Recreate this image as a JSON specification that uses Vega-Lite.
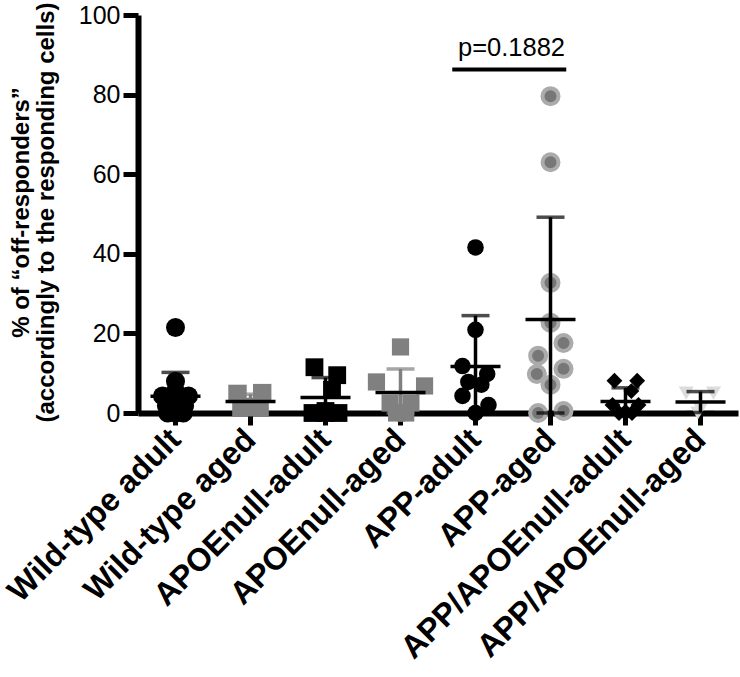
{
  "$schema": "https://vega.github.io/schema/vega-lite/v6.json",
  "autosize": "none",
  "width": 600,
  "height": 398,
  "padding": {"left": 138, "top": 15, "right": 2, "bottom": 264},
  "background": "white",
  "config": {
    "view": {"stroke": null},
    "font": "Liberation Sans",
    "axis": {"domainColor": "black", "tickColor": "black", "labelColor": "black", "titleColor": "black", "grid": false, "labelFont": "Liberation Sans", "titleFont": "Liberation Sans", "zindex": 1}
  },
  "resolve": {"axis": {"y": "independent", "x": "independent"}},
  "datasets": {
    "pts": [
      {"g": "Wild-type adult", "v": 21.5, "s": 0},
      {"g": "Wild-type adult", "v": 8, "s": 0},
      {"g": "Wild-type adult", "v": 5.5, "s": 0},
      {"g": "Wild-type adult", "v": 4.3, "s": -1},
      {"g": "Wild-type adult", "v": 4.3, "s": 1},
      {"g": "Wild-type adult", "v": 2.5, "s": 0},
      {"g": "Wild-type adult", "v": 1.8, "s": -0.7},
      {"g": "Wild-type adult", "v": 1.8, "s": 0.7},
      {"g": "Wild-type adult", "v": 1, "s": 0},
      {"g": "Wild-type adult", "v": 0, "s": -0.6},
      {"g": "Wild-type adult", "v": 0, "s": 0.6},
      {"g": "Wild-type adult", "v": 0, "s": 0},
      {"g": "Wild-type aged", "v": 4.8, "s": -1},
      {"g": "Wild-type aged", "v": 5, "s": 0.9},
      {"g": "Wild-type aged", "v": 1.5, "s": -0.7},
      {"g": "Wild-type aged", "v": 1.5, "s": 0},
      {"g": "Wild-type aged", "v": 1.5, "s": 0.7},
      {"g": "APOEnull-adult", "v": 11.5, "s": -0.85},
      {"g": "APOEnull-adult", "v": 9.5, "s": 0.9},
      {"g": "APOEnull-adult", "v": 5.8, "s": 0.5},
      {"g": "APOEnull-adult", "v": 0, "s": -1},
      {"g": "APOEnull-adult", "v": 0, "s": 0},
      {"g": "APOEnull-adult", "v": 0, "s": 1},
      {"g": "APOEnull-adult", "v": 0.5, "s": 0},
      {"g": "APOEnull-aged", "v": 16.6, "s": 0},
      {"g": "APOEnull-aged", "v": 7.8, "s": -1.85},
      {"g": "APOEnull-aged", "v": 6.8, "s": 1.85},
      {"g": "APOEnull-aged", "v": 2.5, "s": -0.8},
      {"g": "APOEnull-aged", "v": 2.5, "s": 0.8},
      {"g": "APOEnull-aged", "v": 0, "s": -0.3},
      {"g": "APOEnull-aged", "v": 0, "s": 0.4},
      {"g": "APP-adult", "v": 41.6, "s": 0},
      {"g": "APP-adult", "v": 20.9, "s": 0},
      {"g": "APP-adult", "v": 11.8, "s": -1},
      {"g": "APP-adult", "v": 9.8, "s": 0.9},
      {"g": "APP-adult", "v": 7.8, "s": -0.55},
      {"g": "APP-adult", "v": 7.1, "s": 0.45},
      {"g": "APP-adult", "v": 4.3, "s": -1},
      {"g": "APP-adult", "v": 2, "s": 1},
      {"g": "APP-adult", "v": 0, "s": 0},
      {"g": "APP-aged", "v": 79.6, "s": 0},
      {"g": "APP-aged", "v": 63, "s": 0},
      {"g": "APP-aged", "v": 32.7, "s": 0},
      {"g": "APP-aged", "v": 22.7, "s": 0},
      {"g": "APP-aged", "v": 17.6, "s": 1},
      {"g": "APP-aged", "v": 14.4, "s": -0.95},
      {"g": "APP-aged", "v": 11.1, "s": 1},
      {"g": "APP-aged", "v": 9.8, "s": -1.05},
      {"g": "APP-aged", "v": 7.1, "s": 0},
      {"g": "APP-aged", "v": 0, "s": -0.95},
      {"g": "APP-aged", "v": 0.5, "s": 1},
      {"g": "APP/APOEnull-adult", "v": 8.1, "s": -0.85},
      {"g": "APP/APOEnull-adult", "v": 8.1, "s": 0.9},
      {"g": "APP/APOEnull-adult", "v": 5.5, "s": 0.45},
      {"g": "APP/APOEnull-adult", "v": 2, "s": -1},
      {"g": "APP/APOEnull-adult", "v": 2, "s": 1},
      {"g": "APP/APOEnull-adult", "v": 0, "s": -0.5},
      {"g": "APP/APOEnull-adult", "v": 0, "s": 0.5},
      {"g": "APP/APOEnull-adult", "v": 0, "s": 0},
      {"g": "APP/APOEnull-adult", "v": 0.3, "s": 0},
      {"g": "APP/APOEnull-aged", "v": 5, "s": -1.1},
      {"g": "APP/APOEnull-aged", "v": 5, "s": 1},
      {"g": "APP/APOEnull-aged", "v": 1, "s": 0},
      {"g": "APP/APOEnull-aged", "v": 0, "s": -0.2}
    ],
    "sig": [
      {"a": "APP-adult", "b": "APP-aged", "y": 86.3, "t": "p=0.1882"}
    ]
  },
  "layer": [
    {
      "data": {"name": "pts"},
      "transform": [{"filter": "datum.g !== 'APP-aged'"}],
      "mark": {"type": "point", "filled": true, "opacity": 1, "strokeWidth": 0},
      "encoding": {
        "x": {
          "field": "g", "type": "nominal", "sort": null,
          "scale": {"domain": ["Wild-type adult", "Wild-type aged", "APOEnull-adult", "APOEnull-aged", "APP-adult", "APP-aged", "APP/APOEnull-adult", "APP/APOEnull-aged"], "paddingInner": 0, "paddingOuter": 0},
          "axis": {"title": null, "domainWidth": 6, "tickWidth": 5, "tickSize": 12, "labelAngle": -45, "labelAlign": "right", "labelBaseline": "middle", "labelFontSize": 32, "labelFontWeight": "bold", "labelPadding": 9, "labelLimit": 0}
        },
        "xOffset": {"field": "s", "type": "quantitative", "scale": {"domain": [-3, 3], "range": [-1.5, 76.5]}},
        "y": {
          "field": "v", "type": "quantitative",
          "scale": {"domain": [0, 100], "nice": false, "zero": true, "clamp": true},
          "axis": {"values": [0, 20, 40, 60, 80, 100], "domainWidth": 6, "tickWidth": 5, "tickSize": 15, "labelFontSize": 25, "labelPadding": 3,
                   "title": ["% of “off-responders”", "(accordingly to the responding cells)"],
                   "titleFontSize": 24, "titleFontWeight": "bold", "titleAngle": -90, "titleBaseline": "top", "titleAlign": "center", "titleX": -129, "titleY": 197, "titleLineHeight": 25}
        },
        "shape": {
          "field": "g", "type": "nominal", "legend": null,
          "scale": {"domain": ["Wild-type adult", "Wild-type aged", "APOEnull-adult", "APOEnull-aged", "APP-adult", "APP/APOEnull-adult", "APP/APOEnull-aged"],
                    "range": ["circle", "square", "square", "square", "circle", "diamond", "triangle-down"]}
        },
        "color": {
          "field": "g", "type": "nominal", "legend": null,
          "scale": {"domain": ["Wild-type adult", "Wild-type aged", "APOEnull-adult", "APOEnull-aged", "APP-adult", "APP/APOEnull-adult", "APP/APOEnull-aged"],
                    "range": ["#000000", "#808080", "#000000", "#808080", "#000000", "#000000", "#dcdcdc"]}
        },
        "size": {
          "field": "g", "type": "nominal", "legend": null,
          "scale": {"domain": ["Wild-type adult", "Wild-type aged", "APOEnull-adult", "APOEnull-aged", "APP-adult", "APP/APOEnull-adult", "APP/APOEnull-aged"],
                    "range": [361, 230, 256, 256, 361, 400, 320]}
        }
      }
    },
    {
      "data": {"name": "pts"},
      "transform": [{"filter": "datum.g === 'APP-aged'"}],
      "mark": {"type": "point", "shape": "circle", "filled": true, "fill": "#777777", "stroke": "#ababab", "strokeWidth": 4, "size": 256, "opacity": 1},
      "encoding": {
        "x": {"field": "g", "type": "nominal", "sort": null, "axis": null},
        "xOffset": {"field": "s", "type": "quantitative"},
        "y": {"field": "v", "type": "quantitative", "axis": null}
      }
    },
    {
      "data": {"name": "pts"},
      "transform": [{"filter": "datum.g !== 'Wild-type aged' && datum.g !== 'APOEnull-aged'"}],
      "mark": {"type": "errorbar", "extent": "stdev", "ticks": {"size": 28, "thickness": 3.5, "color": "black"}, "rule": {"strokeWidth": 3.5, "color": "black"}},
      "encoding": {
        "x": {"field": "g", "type": "nominal", "sort": null, "axis": null},
        "y": {"field": "v", "type": "quantitative", "axis": null}
      }
    },
    {
      "data": {"name": "pts"},
      "transform": [{"filter": "datum.g === 'Wild-type aged' || datum.g === 'APOEnull-aged'"}],
      "mark": {"type": "errorbar", "extent": "stdev", "ticks": {"size": 28, "thickness": 3.5, "color": "#808080"}, "rule": {"strokeWidth": 3.5, "color": "#808080"}},
      "encoding": {
        "x": {"field": "g", "type": "nominal", "sort": null, "axis": null},
        "y": {"field": "v", "type": "quantitative", "axis": null}
      }
    },
    {
      "data": {"name": "pts"},
      "mark": {"type": "tick", "size": 50, "thickness": 3.5, "color": "black", "orient": "horizontal"},
      "encoding": {
        "x": {"field": "g", "type": "nominal", "sort": null, "axis": null},
        "y": {"field": "v", "type": "quantitative", "aggregate": "mean", "axis": null}
      }
    },
    {
      "data": {"name": "sig"},
      "mark": {"type": "rule", "strokeWidth": 4, "color": "black"},
      "encoding": {
        "x": {"field": "a", "type": "nominal", "bandPosition": 0.19, "axis": null},
        "x2": {"field": "b", "bandPosition": 0.71},
        "y": {"field": "y", "type": "quantitative", "axis": null}
      }
    },
    {
      "data": {"name": "sig"},
      "mark": {"type": "text", "fontSize": 25.5, "font": "Liberation Sans", "color": "black", "baseline": "alphabetic", "align": "center", "dy": -14},
      "encoding": {
        "x": {"field": "a", "type": "nominal", "bandPosition": 0.98, "axis": null},
        "y": {"field": "y", "type": "quantitative", "axis": null},
        "text": {"field": "t"}
      }
    }
  ]
}
